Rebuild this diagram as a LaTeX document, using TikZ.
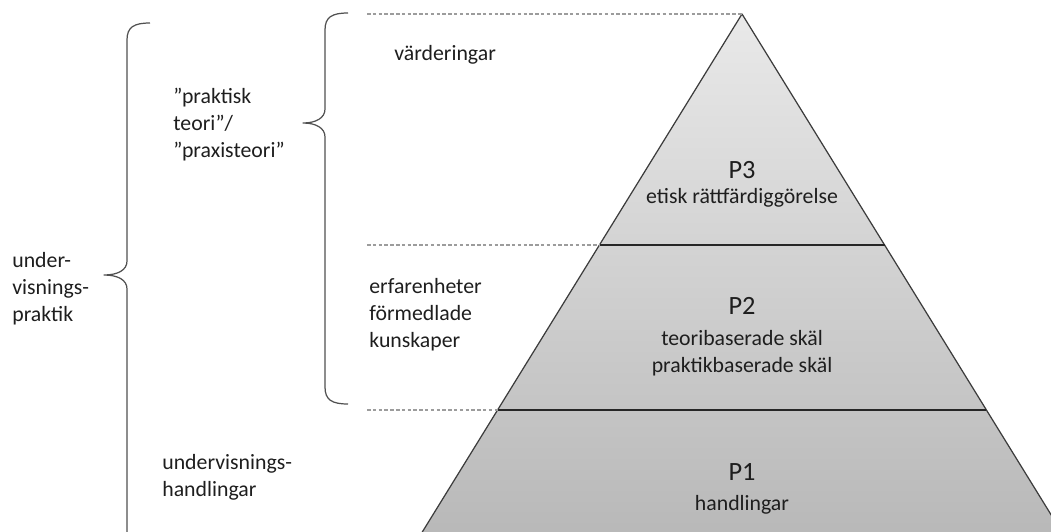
\documentclass[tikz,border=0pt]{standalone}
\usepackage{fontspec}
\setmainfont{Carlito}
\definecolor{cTop}{HTML}{E9E9E9}
\definecolor{cBot}{HTML}{B6B6B6}
\definecolor{cEdge}{HTML}{3C3C3C}
\definecolor{cDash}{HTML}{9C9C9C}
\definecolor{cBrace}{HTML}{505050}
\definecolor{cText}{HTML}{1E1E1E}
\tikzset{
  lbl/.style={anchor=west,align=left,inner sep=0pt,text=cText,
              font=\fontsize{12.4}{15.4}\selectfont},
  lvl/.style={inner sep=0pt,text=cText,font=\fontsize{15}{18}\selectfont},
  sub/.style={align=center,inner sep=0pt,text=cText,
              font=\fontsize{12.4}{15.4}\selectfont},
  guide/.style={cDash,line width=0.6pt,dash pattern=on 2pt off 1.3pt},
  cbrace/.style={cBrace,line width=0.7pt,line join=round},
  sep/.style={line width=0.9pt,black!85},
}

\begin{document}
\begin{tikzpicture}[x=0.02cm,y=-0.02cm]
  \clip (0,0) rectangle (1051,531);
  % pyramid
  \coordinate (apex) at (742,14);
  \coordinate (bl) at (405,560);
  \coordinate (br) at (1079,560);
  \coordinate (l2) at (599.4,245);
  \coordinate (r2) at (884.6,245);
  \coordinate (l1) at (497.6,410);
  \coordinate (r1) at (986.4,410);
  \shade[top color=cTop,bottom color=cBot] (apex) -- (br) -- (bl) -- cycle;
  \draw[cEdge,line width=0.7pt,line join=round] (bl) -- (apex) -- (br);
  \draw[sep] (l2) -- (r2);
  \draw[sep] (l1) -- (r1);

  \node[lvl](p3) at (742,170){P3};
  \node[sub](p3t) at (742,198){etisk rättfärdiggörelse};
  \node[lvl](p2) at (742,306){P2};
  \node[sub](p2t) at (742,353){teoribaserade skäl\\praktikbaserade skäl};
  \node[lvl](p1) at (742,472){P1};
  \node[sub](p1t) at (742,505){handlingar};

  % guides
  \coordinate (g3) at (367,14);
  \coordinate (g2) at (367,245);
  \coordinate (g1) at (367,410);
  \draw[guide] (g3) -- (apex);
  \draw[guide] (g2) -- (l2);
  \draw[guide] (g1) -- (l1);

  % labels
  \node[lbl](vard) at (394,55){värderingar};
  \node[lbl](erf) at (369,315){erfarenheter\\förmedlade\\kunskaper};
  \node[lbl](teori) at (173,125){”praktisk\\teori”/\\”praxisteori”};
  \node[lbl](prak) at (12,289){under-\\visnings-\\praktik};
  \node[lbl](hand) at (162,477){undervisnings-\\handlingar};

  % braces
  \draw[cbrace] (150,23) .. controls (134,23) and (127,27) .. (127,40)
    -- (127,261) .. controls (127,270) and (118,275) .. (104,275)
    .. controls (118,275) and (127,280) .. (127,289) -- (127,545);
  \draw[cbrace] (348,13) .. controls (332,13) and (325,17) .. (325,30)
    -- (325,109) .. controls (325,118) and (316,123) .. (303,123)
    .. controls (316,123) and (325,128) .. (325,137)
    -- (325,387) .. controls (325,400) and (332,404) .. (348,404);
\end{tikzpicture}
\end{document}
